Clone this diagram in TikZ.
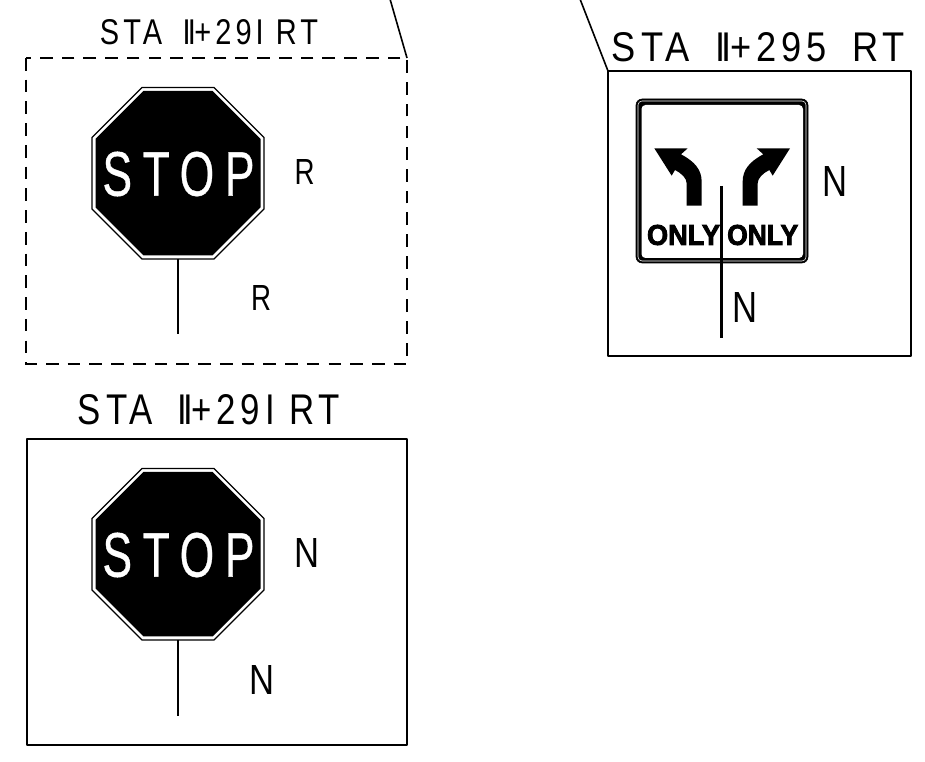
\documentclass[tikz,border=0pt]{standalone}
\usepackage{graphicx}
\usepackage{fontspec}
\setmainfont{Liberation Sans}
\newfontfamily\cadfont[LetterSpace=14]{Liberation Sans}
\newfontfamily\stopfont[LetterSpace=24,FakeBold=0.7]{Liberation Sans}
\newfontfamily\onlyfont[FakeBold=3]{Liberation Sans Bold}
\newdimen\pxu \pxu=0.75pt
\newcommand{\sizedtext}[3]{\resizebox{#1\pxu}{#2\pxu}{#3}}
\newcommand{\stopsign}[2]{%
  \begin{scope}[yshift=#1*-0.75pt]
    \draw[signedge,fill=white] (142,87.5)--(214,87.5)--(264,137.5)--(264,209)--(214,259)--(142,259)--(92,209)--(92,137.5)--cycle;
    \fill[black] (143.5,91)--(212.5,91)--(260.5,139)--(260.5,207.5)--(212.5,255.5)--(143.5,255.5)--(95.5,207.5)--(95.5,139)--cycle;
    \node[plaintext,text=white] (#2) at (178.5,174) {\sizedtext{152}{44}{\stopfont STOP}};
  \end{scope}}
\tikzset{
  x=0.75pt,y=-0.75pt,
  framebox/.style={draw=black,line width=1.8pt,line join=round},
  dashbox/.style={draw=black,line width=1.3pt,dash pattern=on 9.5pt off 6.8pt},
  leader/.style={draw=black,line width=1.2pt},
  signedge/.style={draw=black,line width=1pt,line join=miter},
  post/.style={draw=black,line width=1.6pt},
  plaintext/.style={inner sep=0pt,outer sep=0pt,text=black},
}
\begin{document}
\begin{tikzpicture}
\useasboundingbox (0,0) rectangle (925,762);
% frames and leaders
\coordinate (dashTL) at (26,58);
\coordinate (dashBR) at (407,364);
\coordinate (dashTR) at (407,58);
\coordinate (leadA) at (390,-1);
\coordinate (rightTL) at (608,71);
\coordinate (rightBR) at (911,356);
\coordinate (leadB) at (580,-1);
\draw[dashbox] (dashTL) rectangle (dashBR);
\draw[leader] (dashTR) -- (leadA);
\draw[framebox] (27,439) rectangle (407,745);
\draw[framebox] (rightTL) rectangle (rightBR);
\draw[leader] (rightTL) -- (leadB);
% headers
\node[plaintext] (headA) at (209,32) {\sizedtext{218}{25}{\cadfont STA\hspace{.7em}I\kern-.1em I\kern-.05em+29I RT}};
\node[plaintext] (headB) at (209,410) {\sizedtext{262}{30}{\cadfont STA\hspace{.7em}I\kern-.1em I\kern-.05em+29I RT}};
\node[plaintext] (headC) at (758.5,47) {\sizedtext{293}{29}{\cadfont STA\hspace{.7em}I\kern-.1em I\kern-.05em+295\hspace{.7em}RT}};
% stop signs
\stopsign{0}{stopA}
\stopsign{381}{stopB}
\coordinate (postAtop) at (178,259);
\coordinate (postAend) at (178,334);
\coordinate (postBtop) at (178,640);
\coordinate (postBend) at (178,716);
\draw[post] (postAtop) -- (postAend);
\draw[post] (postBtop) -- (postBend);
% lane sign
\draw[black,fill=black,rounded corners=4.5pt] (636,99) rectangle (808,263);
\draw[white,line width=0.4pt,rounded corners=3pt] (638,101) rectangle (806,261);
\fill[white,rounded corners=3pt] (641.5,105) rectangle (803,258);
\begin{scope}[shift={(620,85)},x=0.25pt,y=-0.25pt]
  \fill[black] (103,190)--(203,190)--(183,208) .. controls (225,230) and (245,255) .. (245,290)--(245,362)--(200,362)--(200,295) .. controls (200,280) and (185,265) .. (165,255)--(155,272)--cycle;
  \fill[black] (510,190)--(410,190)--(430,208) .. controls (388,230) and (368,255) .. (368,290)--(368,362)--(413,362)--(413,295) .. controls (413,280) and (428,265) .. (448,255)--(458,272)--cycle;
\end{scope}
\node[plaintext] (onlyL) at (683.5,235) {\sizedtext{73}{20}{\onlyfont ONLY}};
\node[plaintext] (onlyR) at (762.7,235) {\sizedtext{71}{20}{\onlyfont ONLY}};
\coordinate (postCtop) at (721.5,186);
\coordinate (postCend) at (721.5,338);
\draw[post,line width=2pt] (postCtop) -- (postCend);
% condition letters
\node[plaintext] (r1) at (304.5,172.5) {\sizedtext{20}{25}{R}};
\node[plaintext] (r2) at (261,298) {\sizedtext{20}{25}{R}};
\node[plaintext] (n1) at (306.5,553) {\sizedtext{25}{29}{N}};
\node[plaintext] (n2) at (262,680) {\sizedtext{25}{29}{N}};
\node[plaintext] (n3) at (835,182) {\sizedtext{25}{30}{N}};
\node[plaintext] (n4) at (745,308) {\sizedtext{25}{30}{N}};
\end{tikzpicture}
\end{document}
